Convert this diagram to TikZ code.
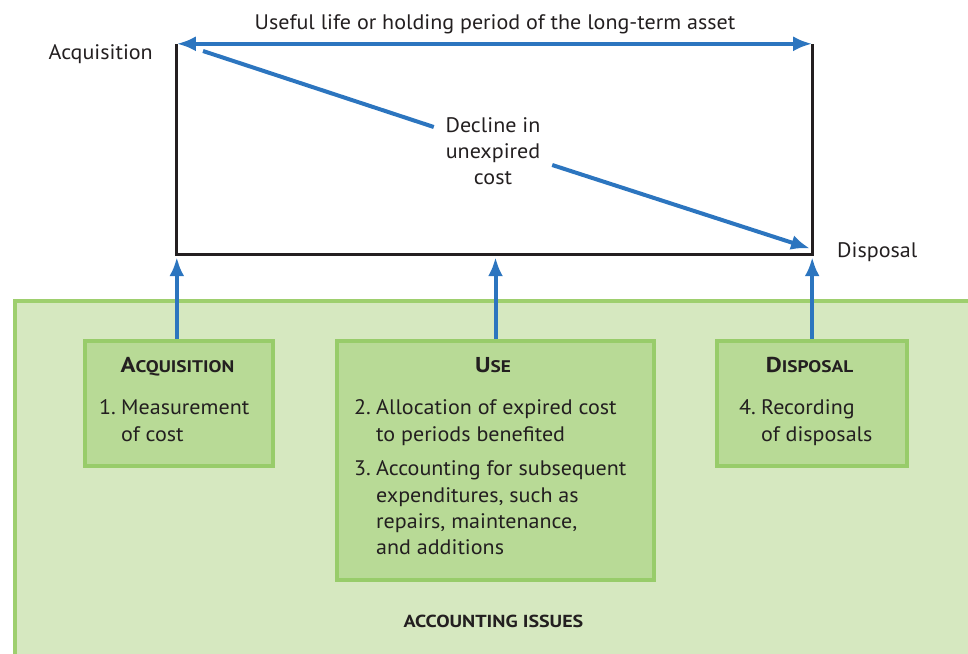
\documentclass[tikz,border=0pt]{standalone}
\usepackage{fontspec}
\setmainfont[FakeStretch=1.05]{PT Sans}
\newfontfamily\headfont[FakeStretch=1.15]{PT Sans Bold}
\usetikzlibrary{arrows.meta}
\definecolor{arrblue}{RGB}{44,117,191}
\definecolor{txt}{RGB}{35,31,32}
\definecolor{outerfill}{RGB}{214,232,192}
\definecolor{outerline}{RGB}{158,207,110}
\definecolor{boxfill}{RGB}{184,218,150}
\definecolor{boxline}{RGB}{152,204,106}
\newcommand\mysc[2]{{\fontsize{21.5}{24}\selectfont #1}{\fontsize{16.8}{18}\selectfont #2}}
\tikzset{
  lbl/.style={inner sep=0pt, text=txt, font=\fontsize{21}{26}\selectfont},
  head/.style={inner sep=0pt, text=txt, font=\headfont, anchor=base},
  bluearr/.style={draw=arrblue, line width=4pt},
  tipped/.style={bluearr, -{Latex[length=19pt,width=15pt]}},
  greenbox/.style={draw=boxline, fill=boxfill, line width=4pt, inner sep=0pt},
}
\begin{document}
\begin{tikzpicture}[x=1pt,y=-1pt]
\useasboundingbox (0,0) rectangle (968,653);
\clip (0,0) rectangle (968,653);

% outer green area
\node[draw=outerline, fill=outerfill, line width=4pt, inner sep=0pt,
      minimum width=1000pt, minimum height=400pt, anchor=north west] (issues) at (13,299) {};

% asset rectangle (no top edge drawn)
\node[inner sep=0pt, minimum width=635pt, minimum height=210pt] (asset) at (494.5,149) {};
\draw[txt, line width=3pt] (asset.north west) -- (asset.south west) -- (asset.south east) -- (asset.north east);

% useful life double arrow
\draw[bluearr, {Latex[length=19pt,width=15pt]}-{Latex[length=19pt,width=15pt]}] (asset.north west) -- (asset.north east);
\node[lbl, anchor=base] (life) at (495,29) {Useful life or holding period of the long-term asset};
\node[lbl, anchor=base east] (acqlbl) at (153,59) {Acquisition};
\node[lbl, anchor=base west] (displbl) at (837,257) {Disposal};

% decline diagonal
\coordinate (dstart) at (203,51);
\coordinate (dend) at (810,248.5);
\node[lbl, align=center, minimum width=118pt, minimum height=80pt] (decl) at (493,151)
  {Decline in\\unexpired\\cost};
\draw[bluearr] (dstart) -- ([yshift=24pt]decl.west);
\draw[tipped] ([yshift=-14pt]decl.east) -- (dend);

% boxes
\node[greenbox, minimum width=188pt, minimum height=125pt, anchor=north west] (acqbox) at (83,339) {};
\node[greenbox, minimum width=317pt, minimum height=239pt, anchor=north west] (usebox) at (335,339) {};
\node[greenbox, minimum width=190pt, minimum height=125pt, anchor=north west] (dispbox) at (715,339) {};

% vertical arrows
\draw[tipped] (acqbox.north -| asset.south west) -- ([yshift=-3pt]asset.south west);
\draw[tipped] (usebox.north) -- ([yshift=-3pt]asset.south -| usebox.north);
\draw[tipped] (dispbox.north -| asset.south east) -- ([yshift=-3pt]asset.south east);

% acquisition box text
\node[head] (acqh) at (177.5,372) {\mysc{A}{CQUISITION}};
\node[lbl, anchor=base east] (n1) at (116,414) {1.};
\node[lbl, anchor=base west] (a1) at (121,414) {Measurement};
\node[lbl, anchor=base west] (a2) at (121,441) {of cost};

% use box text
\node[head] (useh) at (493,372) {\mysc{U}{SE}};
\node[lbl, anchor=base east] (n2) at (371,414) {2.};
\node[lbl, anchor=base west] (u1) at (376,414) {Allocation of expired cost};
\node[lbl, anchor=base west] (u2) at (376,441) {to periods benefited};
\node[lbl, anchor=base east] (n3) at (371,475) {3.};
\node[lbl, anchor=base west] (u3) at (376,475) {Accounting for subsequent};
\node[lbl, anchor=base west] (u4) at (376,502) {expenditures, such as};
\node[lbl, anchor=base west] (u5) at (376,528) {repairs, maintenance,};
\node[lbl, anchor=base west] (u6) at (376,554) {and additions};

% disposal box text
\node[head] (disph) at (809.5,372) {\mysc{D}{ISPOSAL}};
\node[lbl, anchor=base east] (n4) at (756,414) {4.};
\node[lbl, anchor=base west] (d1) at (761,414) {Recording};
\node[lbl, anchor=base west] (d2) at (761,441) {of disposals};

% accounting issues label
\node[head, font=\headfont\fontsize{17.4}{19}\selectfont] (issueslbl) at (493.5,627) {ACCOUNTING ISSUES};
\end{tikzpicture}
\end{document}
